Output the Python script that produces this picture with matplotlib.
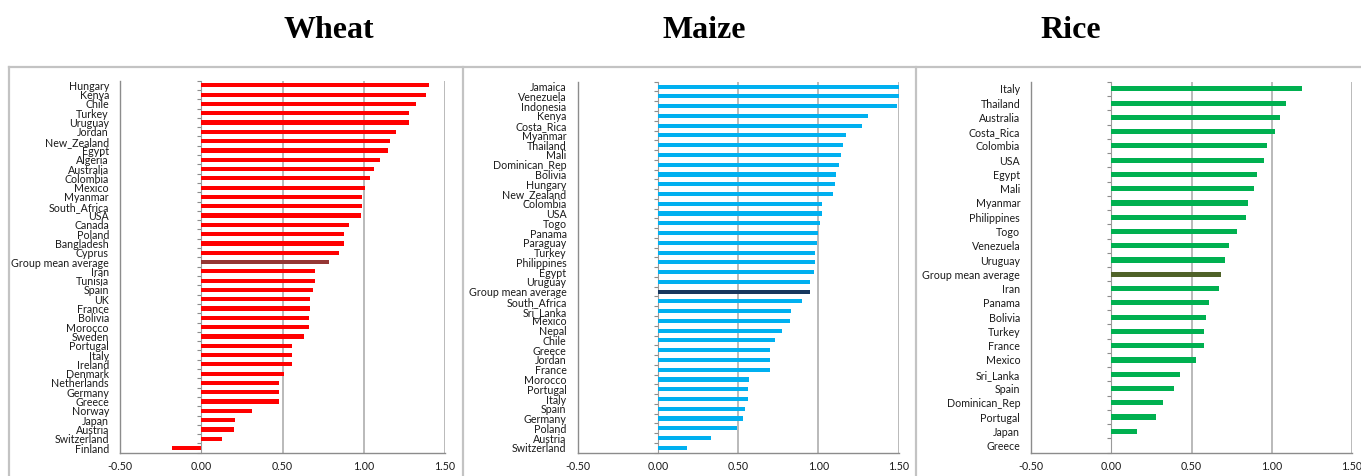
import matplotlib
matplotlib.use("Agg")
import matplotlib.pyplot as plt
from matplotlib.lines import Line2D

# ---- data ----
wheat_countries = ["Hungary", "Kenya", "Chile", "Turkey", "Uruguay", "Jordan", "New_Zealand",
                   "Egypt", "Algeria", "Australia", "Colombia", "Mexico", "Myanmar",
                   "South_Africa", "USA", "Canada", "Poland", "Bangladesh", "Cyprus",
                   "Group mean average", "Iran", "Tunisia", "Spain", "UK", "France",
                   "Bolivia", "Morocco", "Sweden", "Portugal", "Italy", "Ireland",
                   "Denmark", "Netherlands", "Germany", "Greece", "Norway", "Japan",
                   "Austria", "Switzerland", "Finland"]
wheat_values = [1.40, 1.38, 1.32, 1.28, 1.28, 1.20, 1.16, 1.15, 1.10, 1.06, 1.04, 1.01,
                0.99, 0.99, 0.98, 0.91, 0.88, 0.88, 0.85, 0.785, 0.70, 0.70, 0.69,
                0.67, 0.67, 0.66, 0.66, 0.63, 0.56, 0.56, 0.56, 0.51, 0.48, 0.48,
                0.48, 0.31, 0.21, 0.20, 0.13, -0.18]

maize_countries = ["Jamaica", "Venezuela", "Indonesia", "Kenya", "Costa_Rica", "Myanmar",
                   "Thailand", "Mali", "Dominican_Rep", "Bolivia", "Hungary", "New_Zealand",
                   "Colombia", "USA", "Togo", "Panama", "Paraguay", "Turkey", "Philippines",
                   "Egypt", "Uruguay", "Group mean average", "South_Africa", "Sri_Lanka",
                   "Mexico", "Nepal", "Chile", "Greece", "Jordan", "France", "Morocco",
                   "Portugal", "Italy", "Spain", "Germany", "Poland", "Austria", "Switzerland"]
maize_values = [1.51, 1.51, 1.49, 1.31, 1.27, 1.17, 1.15, 1.14, 1.13, 1.11, 1.10, 1.09,
                1.02, 1.02, 1.01, 1.00, 0.99, 0.98, 0.98, 0.97, 0.95, 0.95, 0.90,
                0.83, 0.82, 0.77, 0.73, 0.70, 0.70, 0.70, 0.57, 0.56, 0.56, 0.54,
                0.53, 0.49, 0.33, 0.18]

rice_countries = ["Italy", "Thailand", "Australia", "Costa_Rica", "Colombia", "USA", "Egypt",
                  "Mali", "Myanmar", "Philippines", "Togo", "Venezuela", "Uruguay",
                  "Group mean average", "Iran", "Panama", "Bolivia", "Turkey", "France",
                  "Mexico", "Sri_Lanka", "Spain", "Dominican_Rep", "Portugal", "Japan", "Greece"]
rice_values = [1.19, 1.09, 1.05, 1.02, 0.97, 0.95, 0.91, 0.89, 0.85, 0.84, 0.78, 0.73,
               0.71, 0.68, 0.67, 0.61, 0.59, 0.58, 0.58, 0.53, 0.43, 0.39, 0.32, 0.28,
               0.16, 0.0]

x_ticks = [-0.5, 0.0, 0.5, 1.0, 1.5]

W, H = 1361, 476
fig = plt.figure(figsize=(W / 100, H / 100), dpi=100)


def px_axes(left, right, top, bottom):
    return fig.add_axes([left / W, 1 - bottom / H, (right - left) / W, (bottom - top) / H])


def draw_panel(ax, names, values, color, mean_color, bar_h):
    n = len(names)
    pos = list(range(n))
    colors = [mean_color if c == "Group mean average" else color for c in names]
    ax.barh(pos, values, height=bar_h, color=colors, zorder=3)
    ax.set_ylim(n - 0.5, -0.5)
    ax.set_xlim(-0.5, 1.5)
    ax.set_yticks(pos)
    ax.set_yticklabels(names, fontsize=7.7, family="Lato", color="#1a1a1a")
    ax.tick_params(axis="y", length=0, pad=8)
    ax.set_xticks(x_ticks)
    ax.set_xticklabels([f"{t:.2f}" for t in x_ticks], fontsize=7.7, family="Lato",
                       color="#1a1a1a")
    ax.tick_params(axis="x", length=0, pad=6)
    for s in ("top", "right"):
        ax.spines[s].set_visible(False)
    for s in ("left", "bottom"):
        ax.spines[s].set_color("#8c8c8c")
        ax.spines[s].set_linewidth(1.0)
    for t in x_ticks[2:]:
        ax.axvline(t, color="#b4b4b4", lw=1.3, zorder=1)
    # category axis at zero with tick marks between the categories
    sec = ax.secondary_yaxis(0.25)
    sec.set_yticks([i + 0.5 for i in range(-1, n)])
    sec.set_yticklabels([])
    sec.tick_params(length=3, width=0.8, color="#8c8c8c", direction="out")
    sec.spines["left"].set_color("#9a9a9a")
    sec.spines["left"].set_linewidth(0.8)


ax1 = px_axes(120, 445, 80.7, 452.7)
draw_panel(ax1, wheat_countries, wheat_values, "#ff0000", "#953735", 0.45)
ax2 = px_axes(577.7, 898.7, 81.7, 452.7)
draw_panel(ax2, maize_countries, maize_values, "#00b0f0", "#17375e", 0.42)
ax3 = px_axes(1031.3, 1352, 81.7, 452.7)
draw_panel(ax3, rice_countries, rice_values, "#00b050", "#4f6228", 0.36)

# panel titles
for label, xc in [("Wheat", 329), ("Maize", 704), ("Rice", 1071)]:
    fig.text(xc / W, 1 - 31 / H, label, ha="center", va="center", fontsize=23,
             fontweight="bold", family="Liberation Serif")

# outer frame of the three chart boxes
frame = "#c3c3c3"
fig.add_artist(Line2D([9 / W, 1], [1 - 66.5 / H] * 2, color=frame, lw=1.6))
for xb in (9, 462.7, 916):
    fig.add_artist(Line2D([xb / W] * 2, [0, 1 - 66.5 / H], color=frame, lw=1.6))

fig.savefig("out.png", dpi=100)
